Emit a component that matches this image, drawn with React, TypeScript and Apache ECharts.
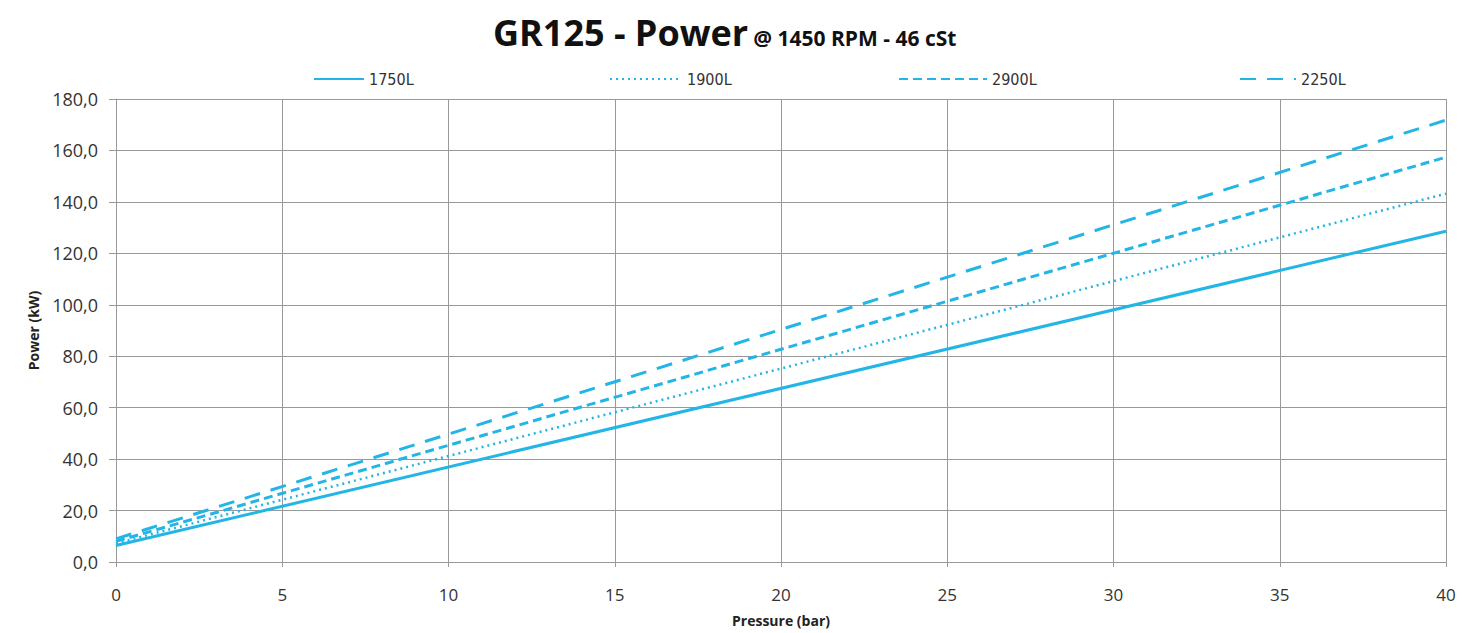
import React, { useEffect, useRef } from "react";
import * as echarts from "echarts";

const seriesNames = ["1750L", "1900L", "2900L", "2250L"];
const pressure = [0, 40];
const power1750 = [6.4, 128.6];
const power1900 = [7.2, 143.2];
const power2900 = [8.0, 157.4];
const power2250 = [9.0, 171.8];
const xTicks = [0, 5, 10, 15, 20, 25, 30, 35, 40];

const COLOR = "#22b5e6";

export default function App() {
  const ref = useRef<HTMLDivElement>(null);
  useEffect(() => {
    if (!ref.current) return;
    const chart = echarts.init(ref.current, null, { renderer: "svg" });
    const values = [power1750, power1900, power2900, power2250];
    const dashes: any[] = ["solid", [2, 4], [9, 5], [16, 11]];
    const legendLefts = [308, 604, 893, 1234];
    const legendWidths = [50, 72, 88, 56];
    const font = "'Open Sans', 'DejaVu Sans', sans-serif";
    chart.setOption({
      animation: false,
      backgroundColor: "#ffffff",
      title: {
        text: "{a|GR125 - Power} {b|@ 1450 RPM - 46 cSt}",
        left: 488,
        top: 9,
        textStyle: {
          rich: {
            a: { fontSize: 36, fontWeight: "bold", color: "#111", fontFamily: font },
            b: { fontSize: 21, fontWeight: "bold", color: "#111", fontFamily: font, padding: [12, 0, 0, 0] },
          },
        },
      },
      legend: seriesNames.map((n, i) => ({
        data: [n],
        left: legendLefts[i],
        top: 66,
        itemWidth: legendWidths[i],
        itemHeight: 14,
        itemGap: 4,
        itemStyle: { opacity: 0 },
        textStyle: { fontSize: 16, color: "#333", fontFamily: "'DejaVu Sans Condensed', 'DejaVu Sans', sans-serif" },
      })),
      grid: { left: 116, right: 16, top: 99, bottom: 71, containLabel: false },
      xAxis: {
        type: "value",
        min: 0,
        max: 40,
        interval: 5,
        name: "Pressure (bar)",
        nameLocation: "middle",
        nameGap: 51,
        nameTextStyle: { fontSize: 14, fontWeight: "bold", color: "#222", fontFamily: font },
        axisLine: { show: true, lineStyle: { color: "#999", width: 1 } },
        axisTick: { show: true, length: 5, lineStyle: { color: "#999" } },
        axisLabel: { fontSize: 17, color: "#333", margin: 24, fontFamily: font, formatter: (v: number) => (xTicks.includes(v) ? String(v) : "") },
        splitLine: { show: true, lineStyle: { color: "#999", width: 1 } },
      },
      yAxis: {
        type: "value",
        min: 0,
        max: 180,
        interval: 20,
        name: "Power (kW)",
        nameLocation: "middle",
        nameGap: 76,
        nameRotate: 90,
        nameTextStyle: { fontSize: 14, fontWeight: "bold", color: "#222", fontFamily: font },
        axisLine: { show: true, lineStyle: { color: "#999", width: 1 } },
        axisTick: { show: true, length: 7, lineStyle: { color: "#999" } },
        axisLabel: { fontSize: 18, color: "#333", margin: 18, fontFamily: font, formatter: (v: number) => v.toFixed(1).replace(".", ",") },
        splitLine: { show: true, lineStyle: { color: "#999", width: 1 } },
      },
      series: seriesNames.map((n, i) => ({
        name: n,
        type: "line",
        data: pressure.map((p, j) => [p, values[i][j]]),
        symbol: "none",
        lineStyle: { color: COLOR, width: i === 1 ? 2.5 : 3, type: dashes[i] },
        itemStyle: { color: COLOR },
      })),
    });
    return () => chart.dispose();
  }, []);
  return <div ref={ref} style={{ position: "absolute", left: 0, top: 0, width: 1462, height: 633 }} />;
}
